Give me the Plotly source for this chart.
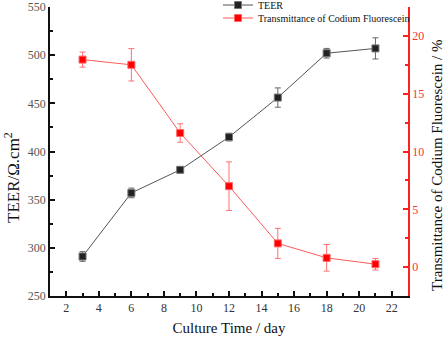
import plotly.graph_objects as go

days = [3, 6, 9, 12, 15, 18, 21]
teer = [291, 357, 381, 415, 456, 502, 507]
teer_err = [5, 5, 3, 4, 10, 5, 11]
trans = [17.95, 17.5, 11.6, 7.0, 2.05, 0.8, 0.25]
trans_err = [0.65, 1.4, 0.8, 2.1, 1.3, 1.15, 0.5]

font_family = "Liberation Serif, Times New Roman, serif"

fig = go.Figure()
fig.add_trace(go.Scatter(
    x=days, y=teer, mode="lines+markers", name="TEER", legend="legend",
    line=dict(color="#555555", width=1),
    marker=dict(symbol="square", size=7, color="#222222", line=dict(color="#777777", width=1)),
    error_y=dict(type="data", array=teer_err, color="#666666", thickness=1, width=3),
))
fig.add_trace(go.Scatter(
    x=days, y=trans, mode="lines+markers", name="Transmittance of Codium Fluorescein",
    yaxis="y2", legend="legend2",
    line=dict(color="#ff5a5a", width=1),
    marker=dict(symbol="square", size=7, color="#ff0000", line=dict(color="#ff6666", width=1)),
    error_y=dict(type="data", array=trans_err, color="#ff7070", thickness=1, width=3),
))

W, H = 447, 338
L, R, T, B = 50, 39, 7, 42
pw, ph = W - L - R, H - T - B

def px(x):
    return (x - L) / pw

def py(y):
    return 1 - (y - T) / ph

leg_common = dict(xanchor="left", yanchor="middle", bgcolor="rgba(0,0,0,0)",
                  font=dict(size=10, family=font_family, color="#111111"), itemwidth=30)

fig.update_layout(
    width=W, height=H,
    margin=dict(l=L, r=R, t=T, b=B, autoexpand=False),
    paper_bgcolor="white", plot_bgcolor="white",
    font=dict(family=font_family, color="#222222", size=12),
    showlegend=True,
    legend=dict(x=px(218), y=py(5), **leg_common),
    legend2=dict(x=px(218), y=py(18), **leg_common),
    xaxis=dict(
        range=[1, 23], tickvals=[2, 4, 6, 8, 10, 12, 14, 16, 18, 20, 22], automargin=False,
        ticklabeloverflow="allow",
        showgrid=False, zeroline=False, showline=True, linecolor="#111111", linewidth=1.5,
        ticks="inside", ticklen=5, tickwidth=1.5, tickcolor="#111111",
        minor=dict(ticks="inside", ticklen=3, tickvals=[3, 5, 7, 9, 11, 13, 15, 17, 19, 21], tickcolor="#111111"),
        tickfont=dict(size=12, color="#333333"),
        title=dict(text="Culture Time / day", font=dict(size=15, color="#111111"), standoff=8),
    ),
    yaxis=dict(
        range=[250, 550], tickvals=[250, 300, 350, 400, 450, 500, 550], automargin=False,
        ticklabeloverflow="allow",
        showgrid=False, zeroline=False, showline=True, linecolor="#111111", linewidth=1.5,
        ticks="inside", ticklen=5, tickwidth=1.5, tickcolor="#111111",
        minor=dict(ticks="inside", ticklen=3, tickvals=[275, 325, 375, 425, 475, 525], tickcolor="#111111"),
        tickfont=dict(size=12, color="#555555"),
    ),
    yaxis2=dict(
        overlaying="y", side="right", automargin=False,
        ticklabeloverflow="allow",
        range=[-2.5, 22.5], tickvals=[0, 5, 10, 15, 20],
        showgrid=False, zeroline=False, showline=True, linecolor="#ff2020", linewidth=1.5,
        ticks="inside", ticklen=5, tickwidth=1.5, tickcolor="#ff2020",
        minor=dict(ticks="inside", ticklen=3, tickvals=[-2.5, 2.5, 7.5, 12.5, 17.5], tickcolor="#ff2020"),
        tickfont=dict(size=12, color="#ff3030"),
    ),
    annotations=[
        dict(text="TEER/Ω.cm<sup>2</sup>", xref="paper", yref="paper", x=px(12), y=py(178),
             textangle=-90, showarrow=False, xanchor="center", yanchor="middle",
             font=dict(size=17, color="#111111", family=font_family)),
        dict(text="Transmittance of Codium Fluorescein / %", xref="paper", yref="paper",
             x=px(437), y=py(165), textangle=-90, showarrow=False, xanchor="center", yanchor="middle",
             font=dict(size=15, color="#111111", family=font_family)),
    ],
)

fig.write_html("out.html", config={"displayModeBar": False},
               post_script="document.body.style.margin='0';document.body.style.padding='0';")
